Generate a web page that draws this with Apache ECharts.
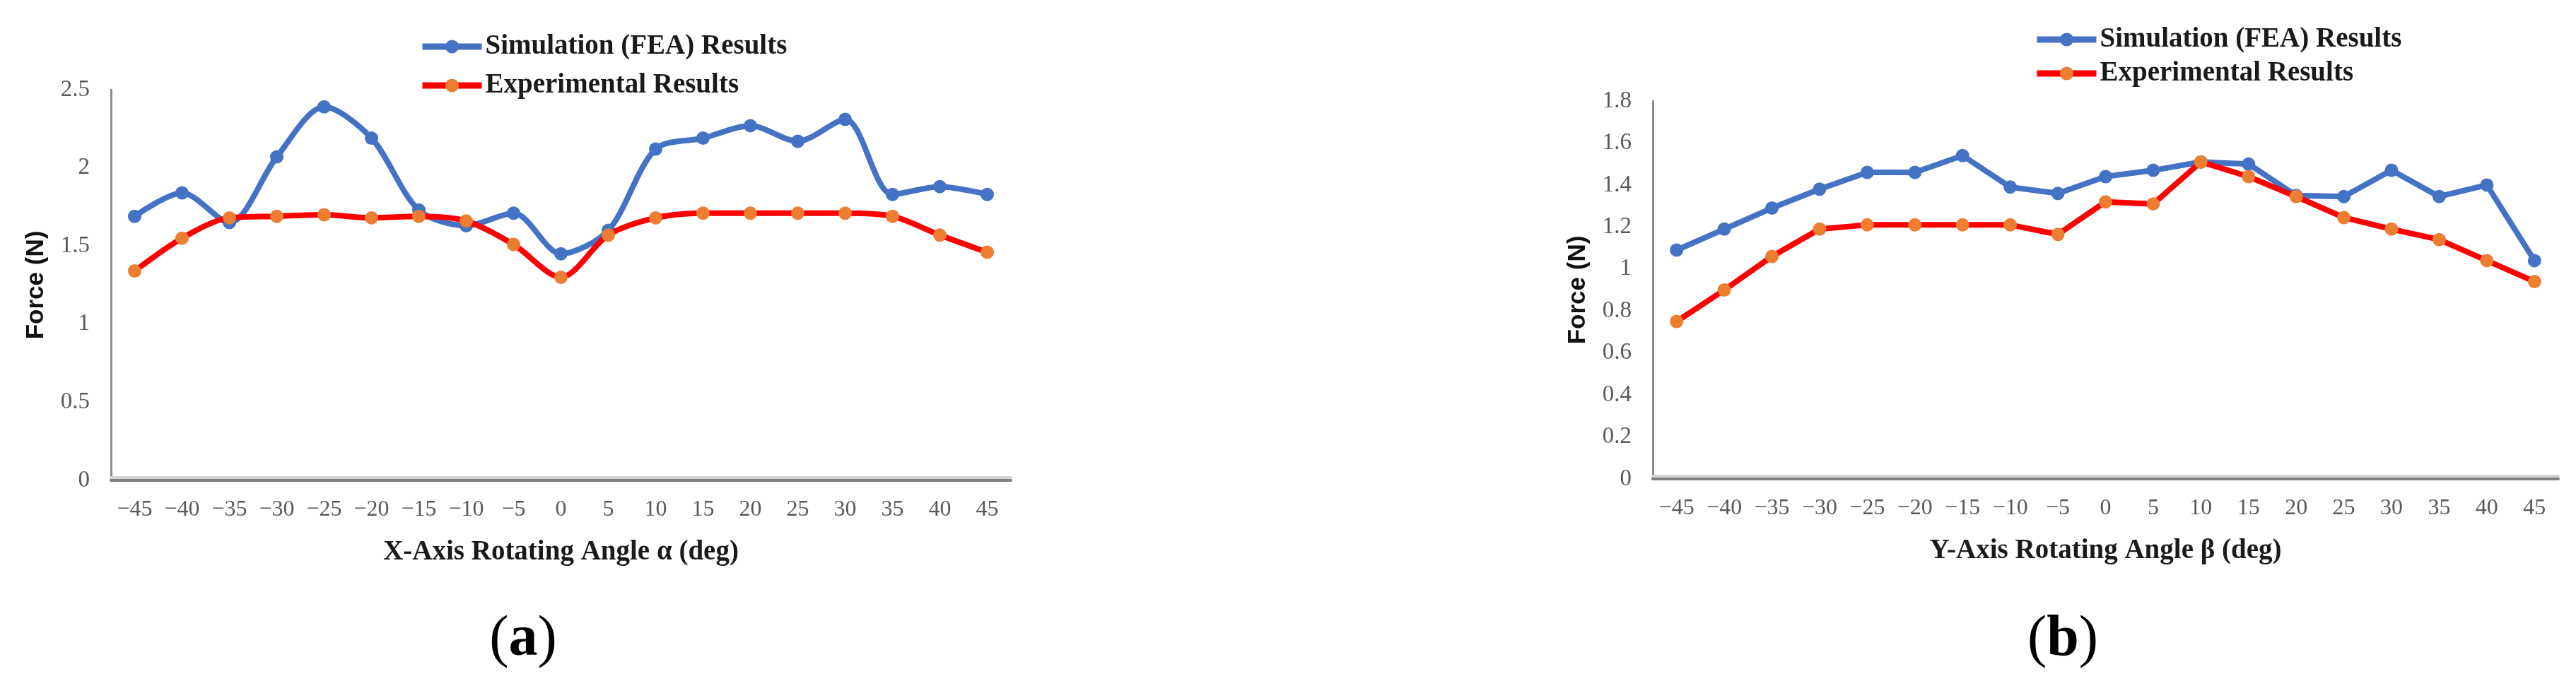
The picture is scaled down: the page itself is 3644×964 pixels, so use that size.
<!DOCTYPE html>
<html>
<head>
<meta charset="utf-8">
<script src="https://cdn.jsdelivr.net/npm/echarts@6/dist/echarts.min.js"></script>
<style>
html,body{margin:0;padding:0;background:#fff;}
#c{width:3644px;height:964px;}
</style>
</head>
<body>
<div id="c"></div>
<script>
// ---- data ----
const categories = ['\u221245','\u221240','\u221235','\u221230','\u221225','\u221220','\u221215','\u221210','\u22125','0','5','10','15','20','25','30','35','40','45'];
const simA = [1.69, 1.84, 1.65, 2.07, 2.39, 2.19, 1.73, 1.63, 1.71, 1.45, 1.60, 2.12, 2.19, 2.27, 2.17, 2.31, 1.83, 1.88, 1.83];
const expA = [1.34, 1.55, 1.68, 1.69, 1.70, 1.68, 1.69, 1.66, 1.51, 1.30, 1.57, 1.68, 1.71, 1.71, 1.71, 1.71, 1.69, 1.57, 1.46];
const simB = [1.09, 1.19, 1.29, 1.38, 1.46, 1.46, 1.54, 1.39, 1.36, 1.44, 1.47, 1.51, 1.50, 1.35, 1.345, 1.47, 1.345, 1.40, 1.04];
const expB = [0.75, 0.90, 1.06, 1.19, 1.21, 1.21, 1.21, 1.21, 1.165, 1.32, 1.31, 1.51, 1.44, 1.345, 1.245, 1.19, 1.14, 1.04, 0.94];
const seriesNames = ['Simulation (FEA) Results', 'Experimental Results'];
const xTitles = ['X-Axis Rotating Angle \u03b1 (deg)', 'Y-Axis Rotating Angle \u03b2 (deg)'];
const yTitle = 'Force (N)';
const panelLabels = ['a', 'b'];

const SERIF = "'Liberation Serif','Times New Roman',serif";
const SANS = "'Liberation Sans',Arial,sans-serif";
const BLUE = '#4472C4', ORANGE = '#ED7D31', RED = '#FF0000';

function xAxisCfg(gi, name) {
  return {
    type: 'category', gridIndex: gi, data: categories, boundaryGap: true,
    axisLine: {lineStyle: {color: '#7f7f7f', width: 4, shadowColor: '#d4d4d4', shadowOffsetY: -4, shadowBlur: 0}},
    axisTick: {show: false},
    axisLabel: {interval: 0, hideOverlap: false, color: '#595959', fontFamily: SERIF, fontSize: 32, margin: 24, lineHeight: 36},
    name: name, nameLocation: 'middle', nameGap: 82,
    nameTextStyle: {color: '#1a1a1a', fontFamily: SERIF, fontWeight: 'bold', fontSize: 39}
  };
}
function yAxisCfg(gi, max, interval) {
  return {
    type: 'value', gridIndex: gi, min: 0, max: max, interval: interval,
    splitLine: {show: false},
    axisLine: {show: true, lineStyle: {color: '#8c8c8c', width: 3}},
    axisTick: {show: false},
    axisLabel: {color: '#595959', fontFamily: SERIF, fontSize: 33, margin: 30},
    name: yTitle, nameLocation: 'middle', nameGap: 88,
    nameTextStyle: {color: '#111', fontFamily: SANS, fontWeight: 'bold', fontSize: 35}
  };
}
function lineSeries(name, data, gi, lineColor, markColor, smooth) {
  return {
    name: name, type: 'line', xAxisIndex: gi, yAxisIndex: gi, data: data,
    smooth: smooth, symbol: 'circle', symbolSize: 19,
    lineStyle: {color: lineColor, width: 8},
    itemStyle: {color: markColor},
    z: name === seriesNames[0] ? 2 : 3
  };
}
function legendCfg(left, top, gap) {
  return {
    orient: 'vertical', left: left, top: top, itemGap: gap, padding: 0,
    itemWidth: 84, itemHeight: 24,
    data: seriesNames,
    lineStyle: {width: 9},
    textStyle: {color: '#1a1a1a', fontFamily: SERIF, fontWeight: 'bold', fontSize: 39, lineHeight: 44, padding: [0,0,0,0]}
  };
}
function panelText(x, y, letter) {
  return {
    type: 'text', x: x, y: y,
    style: {
      text: '{p|(}{b|' + letter + '}{p|)}', align: 'center', verticalAlign: 'middle',
      rich: {
        p: {fontFamily: SERIF, fontSize: 82, fill: '#000', fontWeight: 'normal'},
        b: {fontFamily: SERIF, fontSize: 82, fill: '#000', fontWeight: 'bold'}
      }
    }
  };
}

const chart = echarts.init(document.getElementById('c'), null, {renderer: 'canvas'});
chart.setOption({
  animation: false,
  backgroundColor: '#fff',
  grid: [
    {left: 157, top: 127, width: 1273, height: 553, containLabel: false},
    {left: 2338, top: 143, width: 1281, height: 535, containLabel: false}
  ],
  legend: [legendCfg(593, 44, 11), legendCfg(2877, 34, 4)],
  xAxis: [xAxisCfg(0, xTitles[0]), xAxisCfg(1, xTitles[1])],
  yAxis: [yAxisCfg(0, 2.5, 0.5), yAxisCfg(1, 1.8, 0.2)],
  series: [
    lineSeries(seriesNames[0], simA, 0, BLUE, BLUE, 0.3),
    lineSeries(seriesNames[1], expA, 0, RED, ORANGE, 0.3),
    lineSeries(seriesNames[0], simB, 1, BLUE, BLUE, false),
    lineSeries(seriesNames[1], expB, 1, RED, ORANGE, false)
  ],
  graphic: [panelText(740, 906, panelLabels[0]), panelText(2918, 906, panelLabels[1])]
});
</script>
</body>
</html>
